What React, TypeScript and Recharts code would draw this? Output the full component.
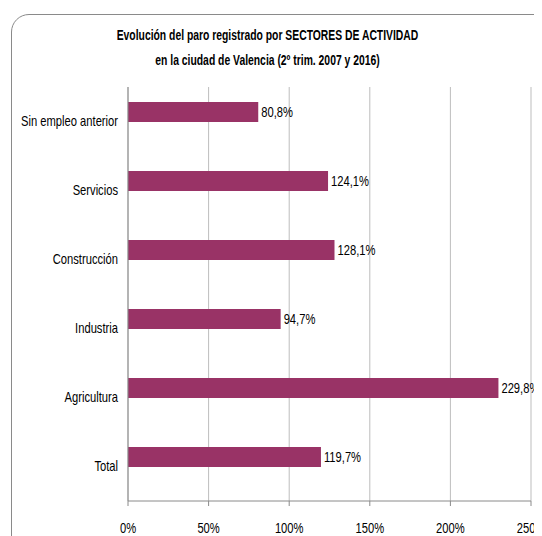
import { BarChart, Bar, XAxis, YAxis, CartesianGrid, LabelList } from 'recharts'

// categories, top to bottom as in the picture
const sectors = ['Sin empleo anterior', 'Servicios', 'Construcción', 'Industria', 'Agricultura', 'Total']
// % change in registered unemployment, 2nd quarter 2007 -> 2016
const changePct = [80.8, 124.1, 128.1, 94.7, 229.8, 119.7]
// the original keeps room for a second (empty) series under each bar
const emptySeries = [null, null, null, null, null, null]
const xTicks = [0, 50, 100, 150, 200, 250]
const bandEdges = [0, 1, 2, 3, 4, 5, 6]

const FONT = '"Liberation Sans", Arial, sans-serif'
const FS = 14
// the original uses Calibri; squeeze Arial metrics down to a similar width
const SQUEEZE = 0.8

const data = sectors.map((name, i) => ({
  name,
  value: changePct[i],
  blank: emptySeries[i],
}))

// 80.8 -> "80,8%"
const fmtPct = (v: any) => (v == null ? '' : `${Number(v).toFixed(1).replace('.', ',')}%`)

const NarrowText = ({ x, y, anchor, children }: any) => (
  <g transform={`translate(${x},${y}) scale(${SQUEEZE},1)`}>
    <text x={0} y={0} dy="0.35em" textAnchor={anchor} fill="#000" fontSize={FS} fontFamily={FONT}>
      {children}
    </text>
  </g>
)

const CategoryTick = ({ x, y, payload }: any) => (
  <NarrowText x={x - 2} y={y} anchor="end">{payload.value}</NarrowText>
)

const PercentTick = ({ x, y, payload }: any) => (
  <NarrowText x={x} y={y + 22} anchor="middle">{`${payload.value}%`}</NarrowText>
)

const ValueLabel = ({ x, y, width, height, value }: any) => (
  <NarrowText x={x + width + 3} y={y + height / 2} anchor="start">{fmtPct(value)}</NarrowText>
)

// bold title is a bit narrower still
const titleLine = {
  transform: 'scaleX(0.74)',
  transformOrigin: 'center',
}

export default function App() {
  return (
    <div style={{ position: 'relative', width: 534, height: 528, overflow: 'hidden', fontFamily: FONT }}>
      {/* rounded chart frame, runs off the right and bottom edges */}
      <div
        style={{
          position: 'absolute',
          left: 3,
          top: 6,
          width: 600,
          height: 600,
          border: '1px solid #8a8a8a',
          borderRadius: 18,
          boxSizing: 'border-box',
        }}
      />
      <div
        style={{
          position: 'absolute',
          left: 0,
          top: 15,
          width: 519,
          textAlign: 'center',
          fontWeight: 'bold',
          fontSize: 14,
          lineHeight: '25px',
          color: '#000',
        }}
      >
        <div style={titleLine}>Evolución del paro registrado por SECTORES DE ACTIVIDAD</div>
        <div style={titleLine}>en la ciudad de Valencia (2º trim. 2007 y 2016)</div>
      </div>
      <div style={{ position: 'absolute', left: 0, top: 0 }}>
        <BarChart
          width={534}
          height={528}
          data={data}
          layout="vertical"
          margin={{ top: 79, right: 11, bottom: 5, left: 0 }}
          barSize={20}
          barGap={0}
        >
          <CartesianGrid horizontal={false} vertical stroke="#bdbdbd" xAxisId="x" yAxisId="cat" />
          <XAxis
            xAxisId="x"
            type="number"
            domain={[0, 250]}
            ticks={xTicks}
            axisLine={{ stroke: '#8a8a8a' }}
            tickLine={{ stroke: '#8a8a8a' }}
            tickSize={5}
            tickMargin={0}
            height={30}
            tick={<PercentTick />}
            interval={0}
          />
          <YAxis
            yAxisId="cat"
            type="category"
            dataKey="name"
            width={120}
            axisLine={{ stroke: '#8a8a8a' }}
            tickLine={false}
            tick={<CategoryTick />}
            interval={0}
          />
          {/* tick marks between categories, Excel style */}
          <YAxis
            yAxisId="edges"
            type="number"
            domain={[0, 6]}
            ticks={bandEdges}
            width={0}
            axisLine={false}
            tick={false}
            tickLine={{ stroke: '#8a8a8a' }}
            tickSize={4}
            orientation="left"
          />
          <Bar xAxisId="x" yAxisId="cat" dataKey="value" fill="#993366" isAnimationActive={false}>
            <LabelList dataKey="value" content={<ValueLabel />} />
          </Bar>
          <Bar xAxisId="x" yAxisId="cat" dataKey="blank" fill="#993366" isAnimationActive={false} />
        </BarChart>
      </div>
    </div>
  )
}
